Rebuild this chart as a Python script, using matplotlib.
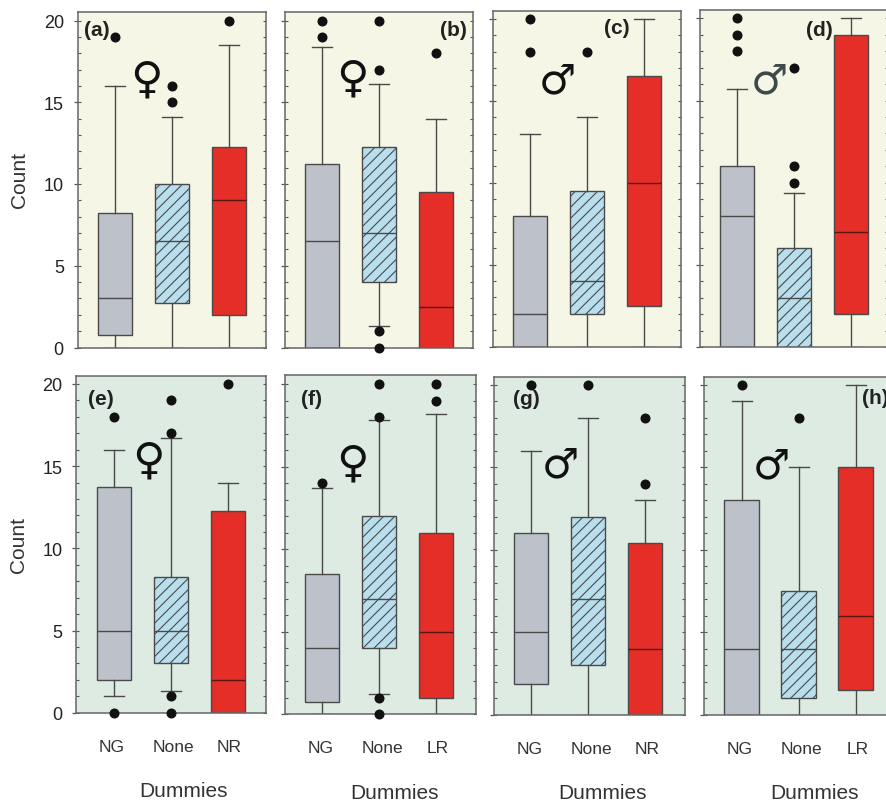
import matplotlib
matplotlib.use('Agg')
import matplotlib.pyplot as plt
from matplotlib.ticker import MultipleLocator

plt.rcParams['font.family'] = ['Liberation Sans', 'DejaVu Sans']

W, H = 887, 804

panels = ['(a)', '(b)', '(c)', '(d)', '(e)', '(f)', '(g)', '(h)']
signs = ['♀', '♀', '♂', '♂', '♀', '♀', '♂', '♂']
cats = [['NG', 'None', 'NR'], ['NG', 'None', 'LR'], ['NG', 'None', 'NR'], ['NG', 'None', 'LR'],
        ['NG', 'None', 'NR'], ['NG', 'None', 'LR'], ['NG', 'None', 'NR'], ['NG', 'None', 'LR']]

q1 = [[0.75, 2.75, 2], [0, 4, 0], [0, 2, 2.5], [0, 0, 2],
      [2, 3, 0], [0.75, 4, 1], [1.9, 3, 0], [0, 1, 1.5]]
med = [[3, 6.5, 9], [6.5, 7, 2.5], [2, 4, 10], [8, 3, 7],
       [5, 5, 2], [4, 7, 5], [5, 7, 4], [4, 4, 6]]
q3 = [[8.25, 10, 12.25], [11.25, 12.25, 9.5], [8, 9.5, 16.5], [11, 6, 19],
      [13.75, 8.25, 12.25], [8.5, 12, 11], [11, 12, 10.4], [13, 7.5, 15]]
whis_lo = [[0, 0, 0], [0, 1.3, 0], [0, 0, 0], [0, 0, 0],
           [1, 1.3, 0], [0, 1.2, 0], [0, 0, 0], [0, 0, 0]]
whis_hi = [[16, 14.1, 18.5], [18.4, 16.1, 14], [13, 14, 20], [15.7, 9.4, 20],
           [16, 16.7, 14], [13.7, 17.8, 18.2], [16, 18, 13], [19, 15, 20]]
fliers = [[[19], [15, 16], [20]],
          [[19, 20], [0, 1, 17, 20], [18]],
          [[18, 20], [18], []],
          [[18, 19, 20], [10, 11, 17], []],
          [[0, 18], [0, 1, 17, 19], [20]],
          [[14], [0, 1, 18, 20], [19, 20]],
          [[20], [20], [14, 18]],
          [[20], [18], []]]

# pixel layout of each panel: left, right, top, y of 0, y of 20
geom = [(78, 266, 13, 348.5, 21.5), (285, 473.5, 13, 348.5, 21.5),
        (493, 681, 12, 347.5, 20), (700, 888, 11, 348, 19.5),
        (76.5, 266, 377, 713.7, 385), (285, 475.7, 376, 715, 385),
        (494, 685, 377.5, 716, 385.5), (704.3, 894, 377.5, 716, 385.5)]
letter_pos = [(97, 31), (453, 31), (617, 28), (819, 31),
              (101, 400), (312, 400), (526, 400), (875, 399)]
sign_pos = [(146, 80), (352, 79), (557, 81), (769, 81),
            (148, 461), (352, 464), (560, 465), (771, 466)]
dummies_pos = [(184, 792), (395, 794), (603, 794), (815, 794)]

yellow_bg = '#F5F6E6'
green_bg = '#DDEBE2'
box_colors = ['#BDC2CA', '#B9DFEE', '#E52E27']
edge = '#4A4A4A'
plt.rcParams['hatch.linewidth'] = 0.8
plt.rcParams['hatch.color'] = '#33474F'

fig = plt.figure(figsize=(W / 100, H / 100), dpi=100)


def fx(x):
    return x / W


def fy(y):
    return 1 - y / H


for i in range(8):
    left, right, top, y0, y20 = geom[i]
    ax = fig.add_axes([fx(left), fy(y0), (right - left) / W, (y0 - top) / H])
    ax.set_facecolor(yellow_bg if i < 4 else green_bg)

    stats = []
    for j in range(3):
        stats.append(dict(med=med[i][j], q1=q1[i][j], q3=q3[i][j],
                          whislo=whis_lo[i][j], whishi=whis_hi[i][j], fliers=fliers[i][j]))
    line = dict(color=edge, linewidth=1.0)
    bp = ax.bxp(stats, positions=[1, 2, 3], widths=0.6, patch_artist=True,
                boxprops=dict(edgecolor=edge, linewidth=1.0),
                medianprops=line, whiskerprops=line, capprops=line, capwidths=0.35,
                flierprops=dict(marker='o', markerfacecolor='#111111',
                                markeredgecolor='#111111', markersize=6.2))
    for j, b in enumerate(bp['boxes']):
        b.set_facecolor(box_colors[j])
    bp['boxes'][1].set_hatch('///')
    bp['medians'][2].set_color('#5A1512')
    for f in bp['fliers']:
        f.set_clip_on(False)
        f.set_zorder(5)

    # 57 px between the boxes, first box 37 px in from the left spine
    ax.set_xlim(1 - 37.3 / 57, 1 - 37.3 / 57 + (right - left) / 57)
    ax.set_ylim(0, (y0 - top) / ((y0 - y20) / 20))

    ax.yaxis.set_major_locator(MultipleLocator(5))
    ax.yaxis.set_minor_locator(MultipleLocator(1))
    ax.yaxis.remove_overlapping_locs = False
    ax.tick_params(axis='y', which='major', direction='out', length=3.2, width=0.9,
                   color='#555555', labelsize=13, labelcolor='#222222', pad=7,
                   labelleft=i in (0, 4))
    ax.tick_params(axis='y', which='minor', direction='in', length=2.4, width=0.8,
                   color='#555555', left=True, right=True)
    if i >= 4:
        ax.set_xticks([0.97, 2.05, 3.03])
        ax.set_xticklabels(cats[i])
        ax.tick_params(axis='x', length=0, labelsize=12.5, labelcolor='#333333', pad=19)
    else:
        ax.set_xticks([])

    for s in ax.spines.values():
        s.set_color('#666666')
        s.set_linewidth(1.1)

    fig.text(fx(letter_pos[i][0]), fy(letter_pos[i][1]), panels[i], fontsize=15, fontweight='bold',
             color='#222222', ha='center', va='center')
    fig.text(fx(sign_pos[i][0]), fy(sign_pos[i][1]), signs[i], fontsize=32 if signs[i] == '♀' else 30,
             family='DejaVu Sans', color='#3D4A48' if i == 3 else '#111111', ha='center', va='center')

for i in range(4):
    fig.text(fx(dummies_pos[i][0]), fy(dummies_pos[i][1]), 'Dummies', fontsize=15,
             color='#333333', ha='center', va='center')
fig.text(fx(20), fy(180), 'Count', fontsize=15, color='#333333', rotation=90, ha='center', va='center')
fig.text(fx(19), fy(545), 'Count', fontsize=15, color='#333333', rotation=90, ha='center', va='center')

fig.savefig('out.png', dpi=100)
